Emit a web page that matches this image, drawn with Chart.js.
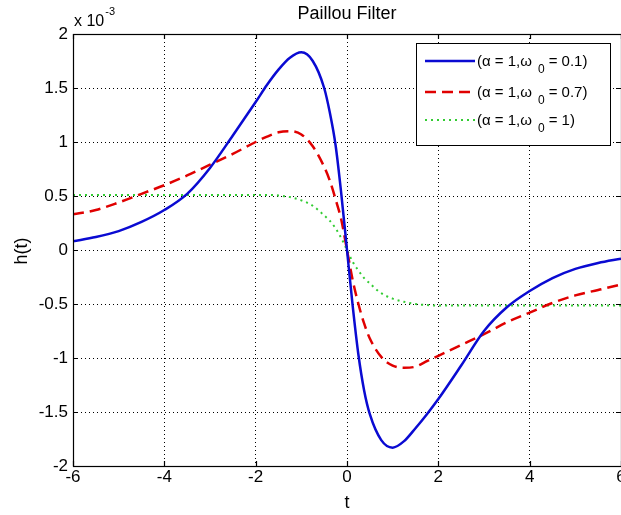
<!DOCTYPE html>
<html>
<head>
<meta charset="utf-8">
<script src="https://cdn.jsdelivr.net/npm/chart.js@4.4.0/dist/chart.umd.min.js"></script>
<style>
html,body{margin:0;padding:0;background:#fff}
canvas{display:block}
</style>
</head>
<body>
<canvas id="chart" width="621" height="515"></canvas>
<script>
// time axis samples
const t = [-6,-5.5,-5,-4.5,-4,-3.5,-3,-2.5,-2,-1.75,-1.5,-1.25,-1,-0.75,-0.5,-0.375,-0.25,-0.125,0,
0.125,0.25,0.375,0.5,0.75,1,1.25,1.5,1.75,2,2.5,3,3.5,4,4.5,5,5.5,6]

// h(t) values in units of 1e-3
const hW01 = [0.08,0.12,0.175,0.26,0.37,0.52,0.76,1.06,1.37,1.53,1.67,1.78,1.83,1.75,1.50,1.27,0.97,0.52,0,
-0.52,-0.97,-1.30,-1.52,-1.76,-1.83,-1.77,-1.65,-1.52,-1.38,-1.07,-0.75,-0.53,-0.38,-0.26,-0.175,-0.12,-0.08]

const hW07 = [0.33,0.37,0.44,0.52,0.60,0.69,0.79,0.89,1.0,1.05,1.09,1.10,1.07,0.96,0.77,0.64,0.47,0.28,0,
-0.28,-0.50,-0.68,-0.82,-0.99,-1.07,-1.09,-1.08,-1.03,-0.98,-0.88,-0.78,-0.67,-0.58,-0.49,-0.42,-0.37,-0.32]

const hW1 = [0.51,0.51,0.51,0.51,0.51,0.51,0.51,0.51,0.51,0.51,0.505,0.49,0.46,0.41,0.32,0.27,0.20,0.11,0,
-0.11,-0.19,-0.26,-0.31,-0.40,-0.45,-0.48,-0.50,-0.51,-0.515,-0.515,-0.515,-0.515,-0.515,-0.515,-0.515,-0.515,-0.515]

const xTicks = [-6,-4,-2,0,2,4,6]
const yTicks = [-2,-1.5,-1,-0.5,0,0.5,1,1.5,2]
const legendW0 = ["0.1","0.7","1"]

const FONT = '"Liberation Sans", Arial, Helvetica, sans-serif'
Chart.defaults.font.family = FONT

function pts(ys){
return t.map((x,i) => ({x:x, y:ys[i]}))
}

const series = [
{data:hW01, color:"#0a0ad2", width:2.5, dash:[]},
{data:hW07, color:"#e00000", width:2.5, dash:[11,6]},
{data:hW1, color:"#33cc33", width:2, dash:[2,4]}
]

const decor = {
id:"decor",
afterDraw(chart){
const ctx = chart.ctx
const a = chart.chartArea
const xs = chart.scales.x, ys = chart.scales.y
ctx.save()

// box and inward ticks
ctx.strokeStyle = "#000"
ctx.lineWidth = 1.2
ctx.setLineDash([])
ctx.strokeRect(a.left + 0.5, a.top + 0.5, a.right - a.left, a.bottom - a.top)
ctx.beginPath()
xTicks.forEach(v => {
const px = Math.round(xs.getPixelForValue(v)) + 0.5
ctx.moveTo(px, a.bottom); ctx.lineTo(px, a.bottom - 5)
ctx.moveTo(px, a.top); ctx.lineTo(px, a.top + 5)
})
yTicks.forEach(v => {
const py = Math.round(ys.getPixelForValue(v)) + 0.5
ctx.moveTo(a.left, py); ctx.lineTo(a.left + 5, py)
ctx.moveTo(a.right, py); ctx.lineTo(a.right - 5, py)
})
ctx.stroke()

// titles
ctx.fillStyle = "#000"
ctx.textAlign = "center"
ctx.textBaseline = "middle"
ctx.font = "18px " + FONT
ctx.fillText("Paillou Filter", (a.left + a.right) / 2, 14)
ctx.fillText("t", (a.left + a.right) / 2, 503)
ctx.save()
ctx.translate(22, 251)
ctx.rotate(-Math.PI / 2)
ctx.fillText("h(t)", 0, 0)
ctx.restore()

// exponent
ctx.textAlign = "left"
ctx.textBaseline = "alphabetic"
ctx.font = "16px " + FONT
ctx.fillText("x 10", 74, 26)
const w10 = ctx.measureText("x 10").width
ctx.font = "11px " + FONT
ctx.fillText("-3", 74 + w10 + 1, 15)

// legend
const lx = 416, ly = 43, lw = 194, lh = 102
ctx.fillStyle = "#fff"
ctx.fillRect(lx, ly, lw, lh)
ctx.strokeStyle = "#000"
ctx.lineWidth = 1
ctx.strokeRect(lx + 0.5, ly + 0.5, lw, lh)
const rows = [61, 92, 120]
series.forEach((s, i) => {
const y = rows[i]
ctx.strokeStyle = s.color
ctx.lineWidth = s.width
ctx.setLineDash(s.dash)
ctx.beginPath()
ctx.moveTo(425, y); ctx.lineTo(475, y)
ctx.stroke()
ctx.setLineDash([])
ctx.fillStyle = "#000"
ctx.textBaseline = "middle"
ctx.font = "15px " + FONT
let x = 477
const main = "(\u03b1 = 1,\u03c9"
ctx.fillText(main, x, y + 1)
x += ctx.measureText(main).width + 6
ctx.font = "12px " + FONT
ctx.fillText("0", x, y + 9)
x += ctx.measureText("0").width + 4
ctx.font = "15px " + FONT
ctx.fillText("= " + legendW0[i] + ")", x, y + 1)
})
ctx.restore()
}
}

const ctx = document.getElementById("chart").getContext("2d")

new Chart(ctx,{
type:"scatter",
data:{
datasets: series.map(s => ({
data: pts(s.data),
showLine: true,
borderColor: s.color,
borderWidth: s.width,
borderDash: s.dash,
pointRadius: 0,
cubicInterpolationMode: "monotone",
fill: false
}))
},
options:{
responsive:false,
devicePixelRatio:1,
animation:false,
layout:{padding:{top:34,left:0,right:0,bottom:0}},
plugins:{legend:{display:false}, tooltip:{enabled:false}},
scales:{
x:{
type:"linear",
min:-6, max:6,
afterBuildTicks: s => { s.ticks = xTicks.map(v => ({value:v})) },
afterFit: s => { s.height = 49; s.paddingLeft = 0; s.paddingRight = 0 },
ticks:{color:"#000", font:{size:17}, padding:1, maxRotation:0, autoSkip:false, callback: v => String(v)},
grid:{color:"#000", lineWidth:1, drawTicks:false},
border:{display:false, dash:[1,3]}
},
y:{
type:"linear",
min:-2, max:2,
afterBuildTicks: s => { s.ticks = yTicks.map(v => ({value:v})) },
afterFit: s => { s.width = 73; s.paddingTop = 0; s.paddingBottom = 0 },
ticks:{color:"#000", font:{size:17}, padding:5, autoSkip:false, callback: v => String(v)},
grid:{color:"#000", lineWidth:1, drawTicks:false},
border:{display:false, dash:[1,3]}
}
}
},
plugins:[decor]
})
</script>
</body>
</html>
